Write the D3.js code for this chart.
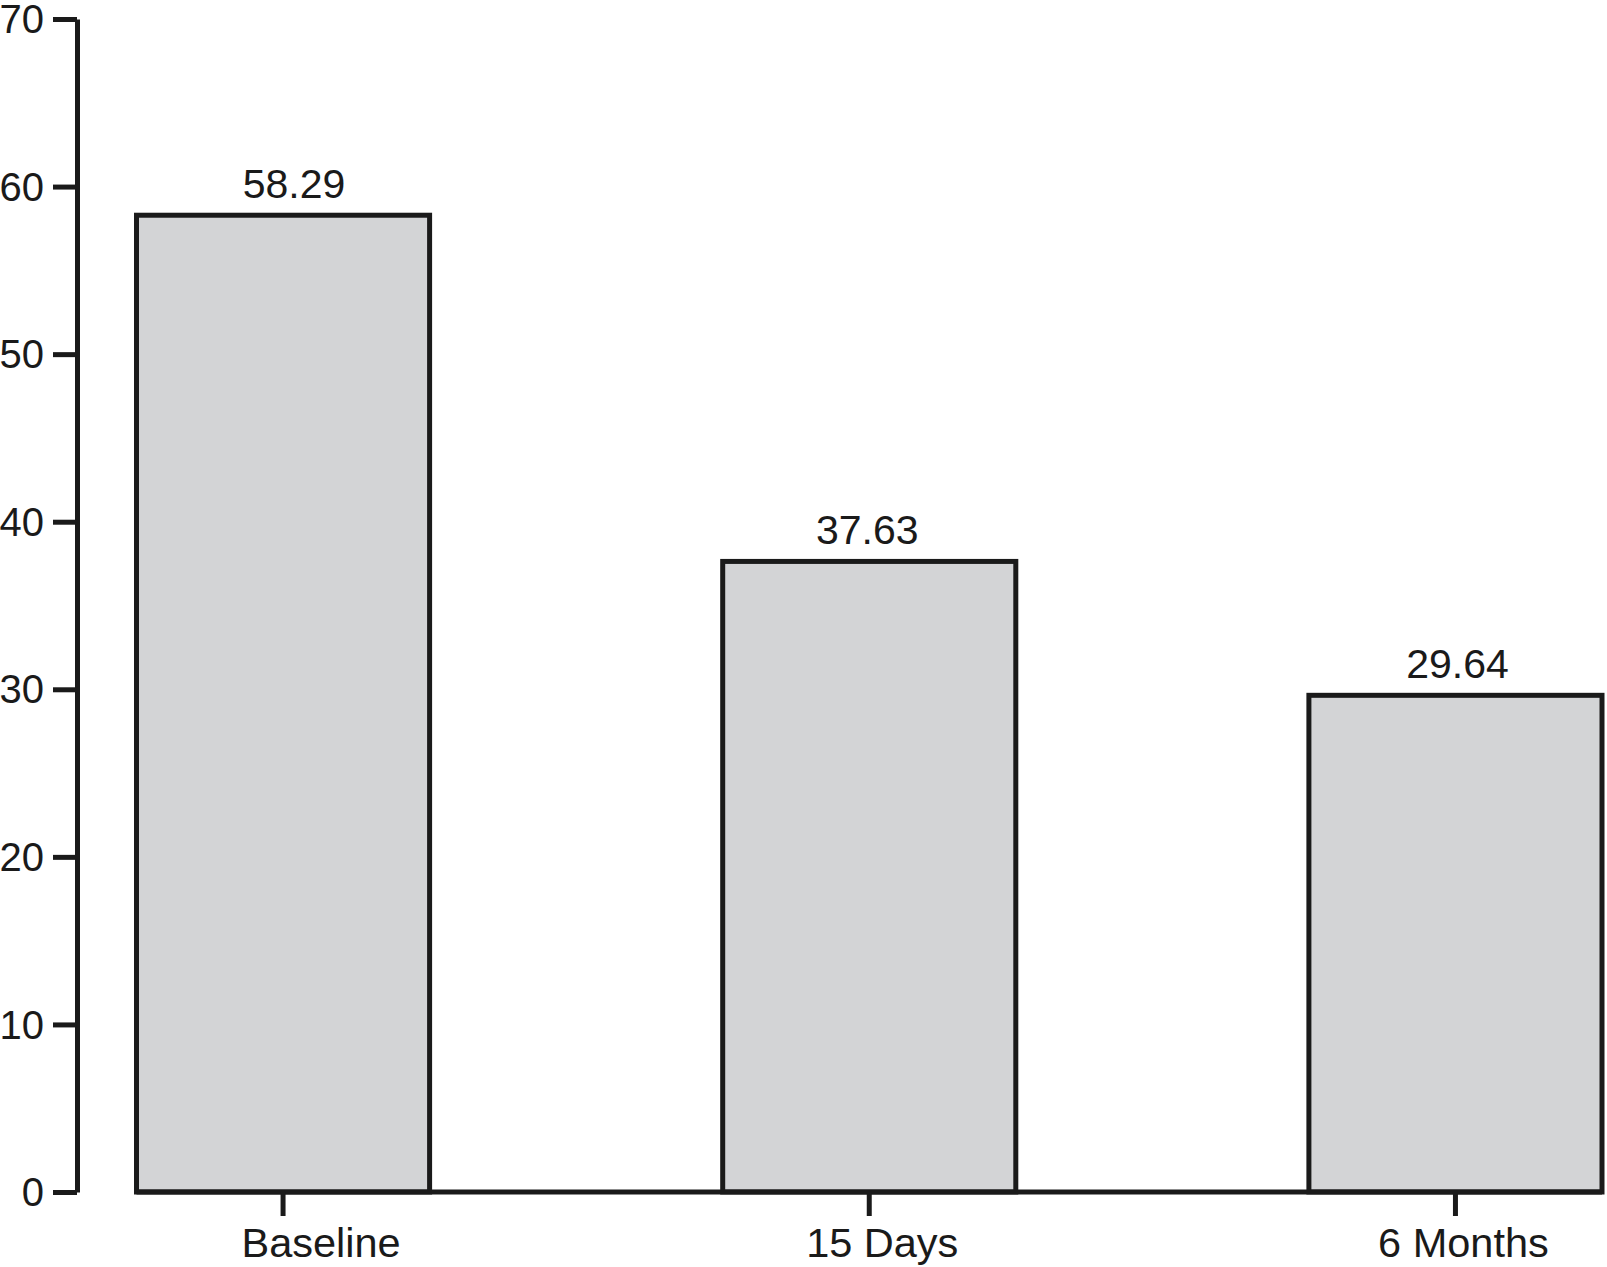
<!DOCTYPE html>
<html>
<head>
<meta charset="utf-8">
<script src="https://cdn.jsdelivr.net/npm/d3@7"></script>
<style>
  html, body { margin: 0; padding: 0; background: #fff; }
  svg { display: block; }
  text { font-family: "Liberation Sans", Arial, Helvetica, sans-serif; fill: #1a1a1a; }
</style>
</head>
<body>
<svg id="chart" width="1607" height="1267"></svg>
<script>
const categories = ["Baseline", "15 Days", "6 Months"];
const values = [58.29, 37.63, 29.64];
const valueLabels = ["58.29", "37.63", "29.64"];
const yTicks = [0, 10, 20, 30, 40, 50, 60, 70];

const svg = d3.select("#chart");
const axisX = 77, yTop = 19, yBottom = 1192;
// small horizontal nudges of texts relative to their marks, as in the reference
const catLabelNudge = [38, 13, 8];
const valLabelNudge = [11, -2, 2];

const y = d3.scaleLinear().domain([0, 70]).range([yBottom, yTop]);
const x = d3.scaleBand().domain(categories).range([136.5, 1602]).paddingInner(0.5).paddingOuter(0);

const ink = "#1a1a1a";
const sw = 5;

// bars
svg.selectAll("rect.bar").data(values).enter().append("rect")
  .attr("class", "bar")
  .attr("x", (d, i) => x(categories[i]))
  .attr("y", d => y(d))
  .attr("width", x.bandwidth())
  .attr("height", d => yBottom - y(d))
  .attr("fill", "#d3d4d6")
  .attr("stroke", ink)
  .attr("stroke-width", sw);

// x baseline from first bar left to last bar right
const xAxisG = svg.append("g").attr("transform", `translate(0,${yBottom})`);
xAxisG.call(d3.axisBottom(x).tickSize(24).tickSizeOuter(0).tickPadding(8));
xAxisG.select(".domain")
  .attr("d", `M${x(categories[0])},0H${x(categories[categories.length - 1]) + x.bandwidth()}`)
  .attr("stroke", ink).attr("stroke-width", sw);
xAxisG.selectAll(".tick line").attr("stroke", ink).attr("stroke-width", sw);
xAxisG.selectAll(".tick text")
  .attr("font-size", 41.5)
  .attr("y", null).attr("dy", null)
  .attr("transform", (d, i) => `translate(${catLabelNudge[i]},65)`)
  .style("fill", ink);

// y axis
const yAxisG = svg.append("g").attr("transform", `translate(${axisX},0)`);
yAxisG.call(d3.axisLeft(y).tickValues(yTicks).tickSize(24).tickSizeOuter(0).tickPadding(9));
yAxisG.select(".domain").attr("stroke", ink).attr("stroke-width", sw);
yAxisG.selectAll(".tick line").attr("stroke", ink).attr("stroke-width", sw);
yAxisG.selectAll(".tick text")
  .attr("font-size", 40)
  .attr("dy", "0.34em")
  .style("fill", ink);

// value labels
svg.selectAll("text.val").data(values).enter().append("text")
  .attr("class", "val")
  .attr("x", (d, i) => x(categories[i]) + x.bandwidth() / 2 + valLabelNudge[i])
  .attr("y", d => y(d) - 17)
  .attr("text-anchor", "middle")
  .attr("font-size", 41)
  .text((d, i) => valueLabels[i]);
</script>
</body>
</html>
